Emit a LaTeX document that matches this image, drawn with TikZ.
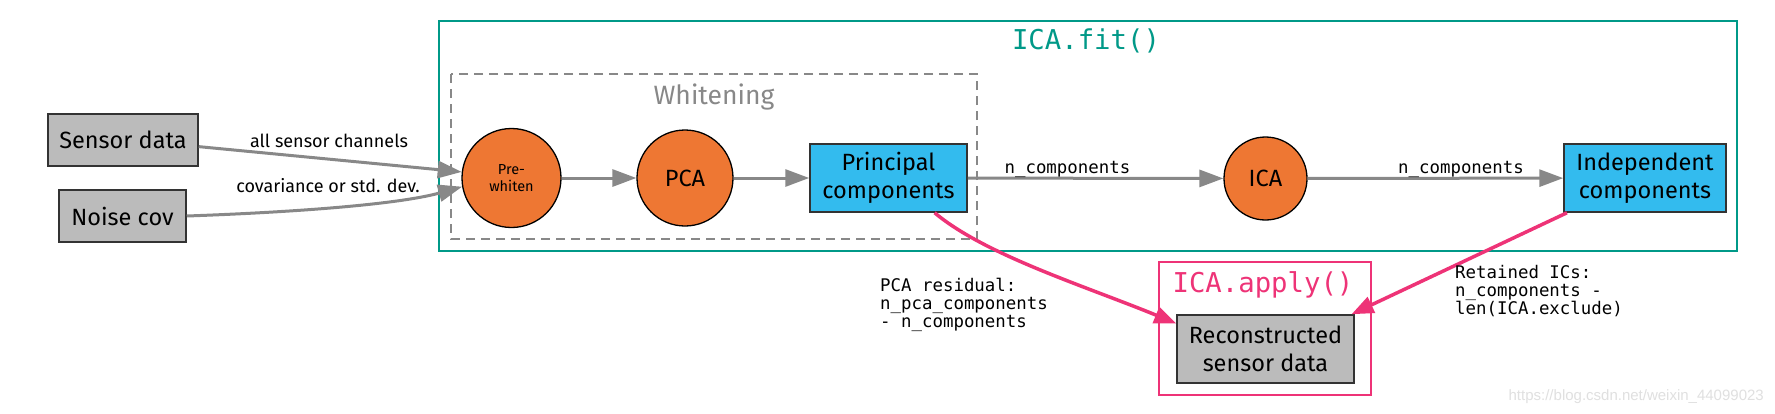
\documentclass[tikz,border=0pt]{standalone}
\usepackage{fontspec}
\setmainfont{Fira Sans}
\setmonofont{DejaVu Sans Mono}
\newfontfamily\wmfont{Liberation Sans}
\usetikzlibrary{arrows.meta}
\definecolor{tolorange}{HTML}{EE7733}
\definecolor{tolblue}{HTML}{33BBEE}
\definecolor{tolteal}{HTML}{009988}
\definecolor{tolmag}{HTML}{EE3377}
\definecolor{tolgrey}{HTML}{BBBBBB}
\definecolor{arrgrey}{HTML}{888888}
\definecolor{edgeblack}{HTML}{333333}
\newcommand{\nfont}{\fontsize{23.5}{28}\selectfont}
\newcommand{\sfont}{\fontsize{14.5}{17}\selectfont}
\newcommand{\efont}{\fontsize{18}{20}\selectfont}
\newcommand{\mfont}{\ttfamily\fontsize{17.4}{18}\selectfont}
\newcommand{\bigmfont}{\ttfamily\fontsize{27.3}{30}\selectfont}
\tikzset{
  x=1pt, y=-1pt,
  gbox/.style={draw=edgeblack, line width=1.5pt, fill=tolgrey, font=\nfont, align=center, inner sep=0pt},
  bbox/.style={draw=edgeblack, line width=1.5pt, fill=tolblue, font=\nfont, align=center, inner sep=0pt},
  ocirc/.style={draw=black, line width=1.3pt, fill=tolorange, circle, font=\nfont, align=center, inner sep=0pt},
  garrow/.style={draw=arrgrey, line width=3pt, -{Triangle[length=24pt,width=17pt]}},
  parrow/.style={draw=tolmag, line width=3.5pt, -{Triangle[length=22pt,width=17pt]}},
  elabel/.style={font=\efont, inner sep=0pt, anchor=base},
  mlabel/.style={font=\mfont, inner sep=0pt, anchor=base},
  codelabel/.style={font=\mfont, inner sep=0pt, align=left, anchor=north west},
}
\begin{document}
\begin{tikzpicture}
\useasboundingbox[fill=white] (0,0) rectangle (1775,413);
% frames
\draw[tolteal, line width=2pt] (439,21) rectangle (1737,251);
\draw[arrgrey, line width=2pt, dash pattern=on 9pt off 6pt] (451,74) rectangle (977,239);
\draw[tolmag, line width=2pt] (1159,262) rectangle (1371,395);
\node[font=\bigmfont, text=tolteal, inner sep=0pt, anchor=base] (fitlabel) at (1086,49) {ICA.fit()};
\node[font=\fontsize{26.5}{30}\selectfont, text=arrgrey, inner sep=0pt, anchor=base] (whitelabel) at (714,104) {Whitening};
\node[font=\bigmfont, text=tolmag, inner sep=0pt, anchor=base] (applylabel) at (1263,292) {ICA.apply()};
% nodes
\node[gbox, minimum width=150pt, minimum height=52pt] (sensor) at (123,140) {Sensor data};
\node[gbox, minimum width=127pt, minimum height=52pt] (noise) at (122.5,216) {Noise cov};
\node[ocirc, minimum size=99pt, font=\sfont] (prew) at (511.5,178) {Pre-\\whiten};
\node[ocirc, minimum size=96pt] (pca) at (685,178) {PCA};
\node[bbox, minimum width=157pt, minimum height=68pt] (pc) at (888.5,178) {Principal\\components};
\node[ocirc, minimum size=83pt] (ica) at (1265.5,178.5) {ICA};
\node[bbox, minimum width=162pt, minimum height=68pt] (icc) at (1645,178) {Independent\\components};
\node[gbox, minimum width=177pt, minimum height=68pt] (recon) at (1265.5,349) {Reconstructed\\sensor data};
% connectors
\draw[garrow] (sensor.-5) -- (prew.173);
\draw[garrow] (noise.east) .. controls (300,212) and (400,204) .. (prew.190);
\draw[garrow] (prew) -- (pca);
\draw[garrow] (pca) -- (pc);
\draw[garrow] (pc) -- node[mlabel, pos=0.39, yshift=5pt] (nc1) {n\_components} (ica);
\draw[garrow] (ica) -- node[mlabel, pos=0.6, yshift=5pt] (nc2) {n\_components} (icc);
\draw[parrow] (pc.-37) .. controls (985,255) and (1085,286) .. (recon.164);
\draw[parrow] (icc.204) -- (recon.22);
% labels
\node[elabel] (lab1) at (329,147) {all sensor channels};
\node[elabel] (lab2) at (328,192) {covariance or std. dev.};
\node[codelabel] (lab3) at (880,278) {PCA residual:\\n\_pca\_components\\- n\_components};
\node[codelabel] (lab4) at (1455,265) {Retained ICs:\\n\_components -\\len(ICA.exclude)};
\node[font=\wmfont\fontsize{15}{17}\selectfont, text=black!12, inner sep=0pt, anchor=base east] (wm) at (1764,400) {https://blog.csdn.net/weixin\_44099023};
\end{tikzpicture}
\end{document}
